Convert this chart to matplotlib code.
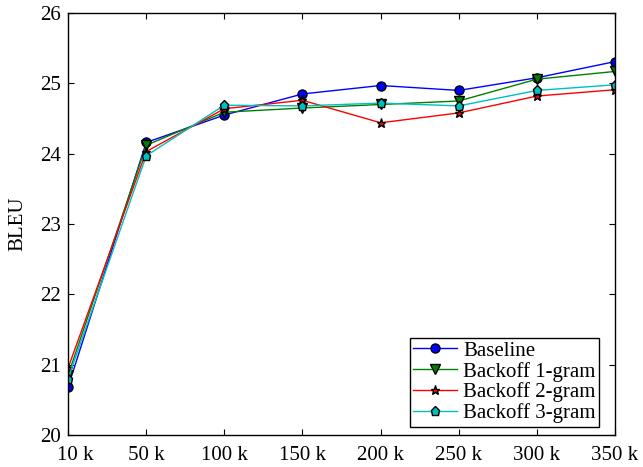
import matplotlib
matplotlib.use("Agg")
import matplotlib.pyplot as plt
import matplotlib.transforms as mtransforms

plt.rcParams['font.family'] = ['Liberation Serif', 'DejaVu Serif']

# Data
sizes = ["10 k", "50 k", "100 k", "150 k", "200 k", "250 k", "300 k", "350 k"]
baseline = [20.68, 24.16, 24.55, 24.85, 24.97, 24.90, 25.08, 25.31]
backoff_1 = [20.85, 24.12, 24.59, 24.65, 24.70, 24.75, 25.06, 25.17]
backoff_2 = [20.95, 24.03, 24.64, 24.76, 24.44, 24.58, 24.82, 24.91]
backoff_3 = [20.80, 23.97, 24.69, 24.68, 24.72, 24.68, 24.90, 24.98]

x = list(range(len(sizes)))

fig = plt.figure(figsize=(6.43, 4.67), dpi=100)
ax = fig.add_axes([0.1058, 0.0685, 0.8507, 0.9035])

ax.plot(x, baseline, color='b', marker='o', markersize=6.5, markeredgecolor='k',
        linewidth=1, label='Baseline')
ax.plot(x, backoff_1, color=(0, 0.5, 0), marker='v', markersize=6.5, markeredgecolor='k',
        linewidth=1, label='Backoff 1-gram')
ax.plot(x, backoff_2, color='r', marker='*', markersize=6.5, markeredgecolor='k',
        linewidth=1, label='Backoff 2-gram')
ax.plot(x, backoff_3, color=(0, 0.75, 0.75), marker='p', markersize=6.5, markeredgecolor='k',
        linewidth=1, label='Backoff 3-gram')

# Axes
ax.set_xlim(0, len(sizes) - 1)
ax.set_ylim(20, 26)
ax.set_xticks(x)
ax.set_xticklabels(sizes)
ax.set_yticks([20, 21, 22, 23, 24, 25, 26])
ax.tick_params(direction='in', top=True, right=True, labelsize=15, length=4)
ax.tick_params(axis='x', pad=8)
ax.tick_params(axis='y', pad=5)
ax.set_ylabel("BLEU", fontsize=15, labelpad=9)

# first x label sits a bit right of its tick
first = ax.get_xticklabels()[0]
first.set_transform(first.get_transform() + mtransforms.ScaledTranslation(0.07, 0, fig.dpi_scale_trans))

for s in ax.spines.values():
    s.set_linewidth(1)
    s.set_color('k')

leg = ax.legend(loc='lower right', fontsize=15, frameon=True, fancybox=False,
                edgecolor='k', framealpha=1, handlelength=2.1, handletextpad=0.3,
                labelspacing=0.05, borderpad=0.15, borderaxespad=0.0,
                bbox_to_anchor=(0.97, 0.02))
leg.get_frame().set_linewidth(1)

plt.savefig("out.png", dpi=100)
